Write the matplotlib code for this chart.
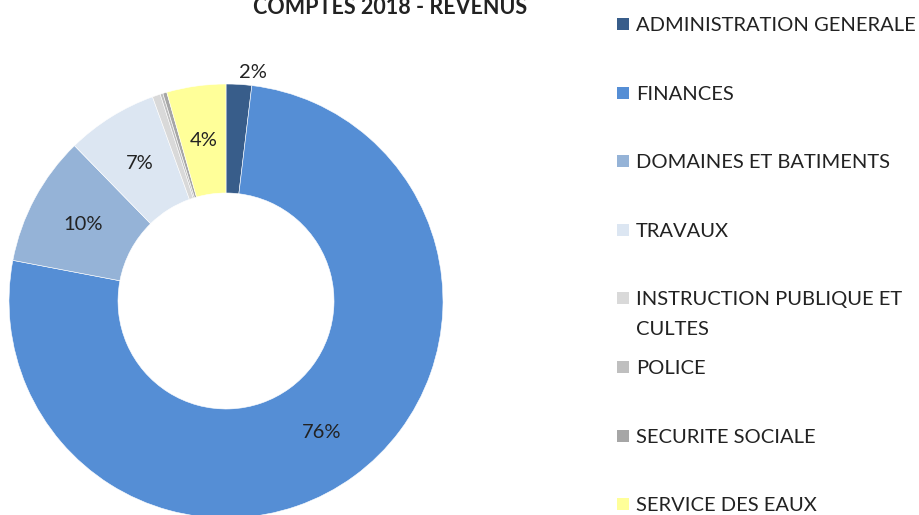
import matplotlib.pyplot as plt
from matplotlib.patches import Rectangle
import numpy as np

categories = [
    "ADMINISTRATION GENERALE",
    "FINANCES",
    "DOMAINES ET BATIMENTS",
    "TRAVAUX",
    "INSTRUCTION PUBLIQUE ET\nCULTES",
    "POLICE",
    "SECURITE SOCIALE",
    "SERVICE DES EAUX",
]
shares = [1.9, 76.1, 9.7, 6.8, 0.6, 0.2, 0.3, 4.4]
pct_labels = ["2%", "76%", "10%", "7%", "", "", "", "4%"]
colors = ["#385D8A", "#558ED5", "#95B3D7", "#DCE6F2",
          "#D9D9D9", "#BFBFBF", "#A6A6A6", "#FFFF99"]

W, H = 920, 515
TXT = "#222222"
plt.rcParams['font.family'] = ['Lato', 'DejaVu Sans']


def fx(px):
    return px / W


def fy(py):
    return 1 - py / H


def main():
    fig = plt.figure(figsize=(W / 100, H / 100), dpi=100)

    # donut: centre (226, 301) px, outer radius 217 px
    cx, cy, r = 226, 301, 217
    ax = fig.add_axes([fx(cx - r), fy(cy + r), 2 * r / W, 2 * r / H])
    hole = 108 / 217
    wedges, _ = ax.pie(
        shares, colors=colors, startangle=90, counterclock=False,
        radius=1, wedgeprops=dict(width=1 - hole, edgecolor='white', linewidth=0.4),
    )
    ax.set_xlim(-1, 1)
    ax.set_ylim(-1, 1)
    ax.set_aspect('equal')
    ax.axis('off')

    mid_r = (1 + hole) / 2
    for w, lab in zip(wedges, pct_labels):
        if not lab:
            continue
        if w.theta2 - w.theta1 < 10:
            # small slice: label pushed outside the ring, like Excel does
            ang = np.deg2rad(w.theta1)
            rr = 1.06
        else:
            ang = np.deg2rad((w.theta1 + w.theta2) / 2)
            rr = mid_r
        ax.text(rr * np.cos(ang), rr * np.sin(ang), lab, ha='center', va='center',
                fontsize=14.5, color=TXT, clip_on=False)

    # title sits partly above the top edge, as in the source image
    fig.text(fx(390), fy(14), "COMPTES 2018 - REVENUS", ha='center', va='baseline',
             fontsize=15.5, fontweight='bold', color=TXT)

    # legend, drawn by hand to keep Excel's even row pitch
    row0, pitch, line_gap = 24, 68.6, 30
    for i, (name, col) in enumerate(zip(categories, colors)):
        y = row0 + i * pitch
        fig.add_artist(Rectangle((fx(617), fy(y + 6)), 12 / W, 12 / H,
                                 transform=fig.transFigure, facecolor=col,
                                 edgecolor='none'))
        for k, line in enumerate(name.split("\n")):
            fig.text(fx(636), fy(y + k * line_gap), line, ha='left', va='center_baseline',
                     fontsize=14.5, color=TXT)

    fig.savefig("out.png", dpi=100)


if __name__ == "__main__":
    main()
